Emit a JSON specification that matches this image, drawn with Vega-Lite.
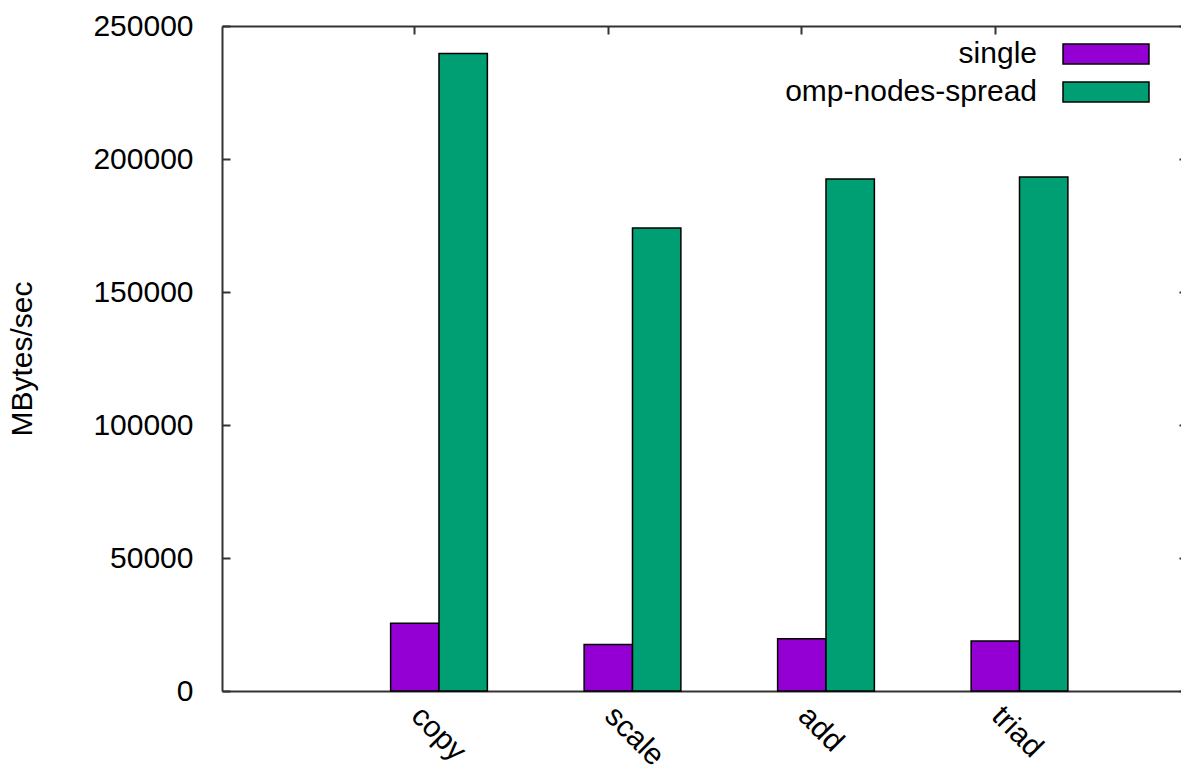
{
  "$schema": "https://vega.github.io/schema/vega-lite/v6.json",
  "width": 959,
  "height": 665,
  "autosize": {"type": "none"},
  "padding": {"left": 222, "top": 26, "right": 0, "bottom": 74},
  "background": "white",
  "config": {
    "view": {"stroke": null},
    "font": "Liberation Sans",
    "axis": {
      "labelFont": "Liberation Sans",
      "titleFont": "Liberation Sans",
      "labelFontSize": 30,
      "titleFontSize": 30,
      "labelColor": "#000",
      "titleColor": "#000",
      "titleFontWeight": "normal",
      "domainColor": "#333",
      "domainWidth": 2,
      "tickColor": "#333",
      "tickWidth": 2,
      "grid": false
    }
  },
  "data": {
    "values": [
      {"test": "copy", "series": "single", "value": 25500},
      {"test": "copy", "series": "omp-nodes-spread", "value": 239700},
      {"test": "scale", "series": "single", "value": 17500},
      {"test": "scale", "series": "omp-nodes-spread", "value": 174100},
      {"test": "add", "series": "single", "value": 19600},
      {"test": "add", "series": "omp-nodes-spread", "value": 192500},
      {"test": "triad", "series": "single", "value": 18800},
      {"test": "triad", "series": "omp-nodes-spread", "value": 193200}
    ]
  },
  "layer": [
    {
      "mark": {"type": "bar", "stroke": "black", "strokeWidth": 1.5},
      "encoding": {
        "x": {
          "field": "test",
          "type": "nominal",
          "sort": ["copy", "scale", "add", "triad"],
          "scale": {"paddingInner": 0, "paddingOuter": 0.478, "align": 0.65},
          "axis": {
            "orient": "bottom",
            "title": null,
            "ticks": false,
            "labelOffset": -23,
            "labelAngle": 45,
            "labelAlign": "left",
            "labelBaseline": "middle",
            "labelPadding": 20,
            "labelLimit": 0
          }
        },
        "xOffset": {
          "field": "series",
          "type": "nominal",
          "sort": ["single", "omp-nodes-spread"],
          "scale": {"paddingInner": 0, "paddingOuter": 1}
        },
        "y": {
          "field": "value",
          "type": "quantitative",
          "scale": {"domain": [0, 250000], "nice": false},
          "axis": {
            "orient": "left",
            "title": "MBytes/sec",
            "values": [0, 50000, 100000, 150000, 200000, 250000],
            "format": "d",
            "tickSize": -8,
            "labelPadding": 37,
            "titlePadding": 55
          }
        },
        "fill": {
          "field": "series",
          "type": "nominal",
          "sort": ["single", "omp-nodes-spread"],
          "scale": {"domain": ["single", "omp-nodes-spread"], "range": ["#9400D3", "#009E73"]},
          "legend": {
            "orient": "none",
            "legendX": 869,
            "legendY": 13,
            "title": null,
            "symbolType": "M-4,-0.93H4V0.93H-4Z",
            "symbolSize": 462,
            "symbolStrokeColor": "black",
            "symbolStrokeWidth": 1.5,
            "symbolOpacity": 1,
            "labelFont": "Liberation Sans",
            "labelFontSize": 30,
            "labelColor": "#000",
            "labelAlign": "right",
            "labelOffset": -84,
            "labelLimit": 0,
            "rowPadding": 8
          }
        }
      }
    },
    {
      "mark": {"type": "bar", "opacity": 0},
      "encoding": {
        "x": {
          "field": "test",
          "type": "nominal",
          "sort": ["copy", "scale", "add", "triad"],
          "axis": {
            "orient": "top",
            "title": null,
            "labels": false,
            "bandPosition": 0.375,
            "tickSize": -8
          }
        },
        "xOffset": {"field": "series", "type": "nominal", "sort": ["single", "omp-nodes-spread"]},
        "y": {
          "field": "value",
          "type": "quantitative",
          "axis": {
            "orient": "right",
            "title": null,
            "labels": false,
            "domain": false,
            "values": [0, 50000, 100000, 150000, 200000, 250000],
            "tickSize": -2
          }
        }
      }
    }
  ],
  "resolve": {"axis": {"x": "independent", "y": "independent"}}
}
